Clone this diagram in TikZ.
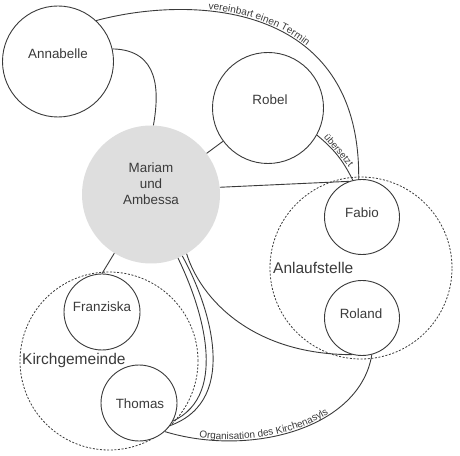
\documentclass[tikz,border=0pt]{standalone}
\usepackage{fontspec}
\setmainfont{Liberation Sans}
\usetikzlibrary{decorations.text}
\definecolor{ink}{HTML}{3A3A3A}
\definecolor{mgray}{HTML}{DEDEDE}
\begin{document}
\begin{tikzpicture}[x=1pt,y=1pt,
  person/.style={circle, draw=ink, line width=0.9pt, fill=white, inner sep=0pt},
  group/.style={circle, draw=ink, line width=0.8pt, dash pattern=on 2pt off 1.6pt, inner sep=0pt},
  nametext/.style={text=ink, font=\fontsize{13.4}{16}\selectfont, inner sep=0pt, align=center},
  grouptext/.style={text=ink, font=\fontsize{15.5}{18}\selectfont, inner sep=0pt, anchor=west},
  conn/.style={draw=ink, line width=0.9pt},
  smalllabel/.style={text=ink, font=\fontsize{9.5}{11}\selectfont, inner sep=0.5pt}
]
\useasboundingbox (0,0) rectangle (460,455);
% groups
\node[group, minimum size=182pt] (anl) at (361,187) {};
\node[group, minimum size=178pt] (kirch) at (109,94) {};
% persons
\node[person, minimum size=111pt] (annabelle) at (58,393.5) {};
\node[person, minimum size=111pt] (robel) at (268,347) {};
\node[circle, fill=mgray, minimum size=138pt, inner sep=0pt] (mariam) at (151,260.5) {};
\node[person, minimum size=75pt] (fabio) at (362,238) {};
\node[person, minimum size=75pt] (roland) at (362,137) {};
\node[person, minimum size=76pt] (franziska) at (102,143) {};
\node[person, minimum size=76pt] (thomas) at (139,52) {};
% texts
\node[nametext] (annabelle-t) at (58,401) {Annabelle};
\node[nametext] (robel-t) at (270,355) {Robel};
\node[nametext] (mariam-t) at (151,271) {Mariam\\und\\Ambessa};
\node[nametext] (fabio-t) at (362,242) {Fabio};
\node[nametext] (roland-t) at (361,141) {Roland};
\node[nametext] (franziska-t) at (102,148) {Franziska};
\node[nametext] (thomas-t) at (140,51) {Thomas};
\node[grouptext] (anl-t) at (273,187) {Anlaufstelle};
\node[grouptext] (kirch-t) at (22,95) {Kirchgemeinde};
% connectors
\draw[conn, postaction={decorate, decoration={text along path, raise=1.5pt,
   text align={left indent=113pt},
   text={|\fontsize{10}{12}\selectfont\color{ink}|vereinbart einen Termin}}}]
  (annabelle.47) .. controls +(93,25) and +(2,180) .. (fabio.95);
\draw[conn] (annabelle.13) .. controls +(47,-1) and +(6,34) .. (mariam.88);
\draw[conn] (mariam) -- (robel);
\draw[conn] (mariam.6) -- (fabio.110);
\draw[conn] (robel.-29) to[bend left=12] node[smalllabel, sloped, above, pos=0.44] (uebersetzt) {übersetzt} (fabio.104);
\draw[conn] (mariam.-59) .. controls +(14,-45) and +(-100,0) .. (roland.-105);
\draw[conn] (mariam.-67) .. controls +(22,-45) and +(58,27) .. (thomas.-28);
\draw[conn] (mariam.-63) .. controls +(25,-45) and +(72,26) .. (thomas.-36);
\draw[conn] (mariam.-122) -- (franziska.north);
\draw[conn, postaction={decorate, decoration={text along path, raise=1.5pt,
   text align={left indent=35pt},
   text={|\fontsize{10}{12}\selectfont\color{ink}|Organisation des Kirchenasyls}}}]
  (thomas.-48) .. controls +(85,-26) and +(-12,-74) .. (roland.-75);
\end{tikzpicture}
\end{document}
